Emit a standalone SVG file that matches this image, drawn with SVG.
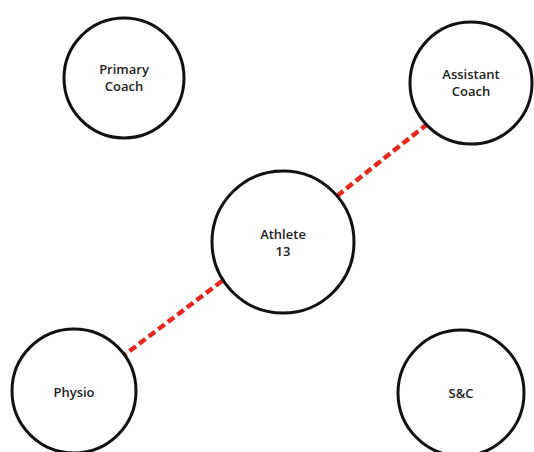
<svg xmlns="http://www.w3.org/2000/svg" width="534" height="452" viewBox="0 0 534 452">
  <style>
    .node circle { fill: #ffffff; stroke: #111111; stroke-width: 3; }
    .node text { font-family: "Open Sans", "Liberation Sans", sans-serif; font-weight: 600; font-size: 13px; fill: #222222; text-anchor: middle; }
    .link { stroke: #e8281e; stroke-width: 4.5; stroke-dasharray: 8 4; fill: none; }
  </style>
  <rect width="534" height="452" fill="#ffffff"/>
  <g id="connectors">
    <line class="link" x1="337" y1="196" x2="426" y2="125"/>
    <line class="link" x1="222" y1="281" x2="123" y2="356"/>
  </g>
  <g id="primary-coach" class="node">
    <circle cx="124" cy="78" r="60"/>
    <text x="124" y="74">Primary<tspan x="124" dy="16.5">Coach</tspan></text>
  </g>
  <g id="assistant-coach" class="node">
    <circle cx="471" cy="83" r="61"/>
    <text x="471" y="79">Assistant<tspan x="471" dy="16.5">Coach</tspan></text>
  </g>
  <g id="athlete" class="node">
    <circle cx="283" cy="242" r="71"/>
    <text x="283" y="239">Athlete<tspan x="283" dy="17">13</tspan></text>
  </g>
  <g id="physio" class="node">
    <circle cx="74" cy="391" r="62"/>
    <text x="74" y="397">Physio</text>
  </g>
  <g id="sc" class="node">
    <circle cx="461" cy="393" r="63"/>
    <text x="461" y="398">S&amp;C</text>
  </g>
</svg>
